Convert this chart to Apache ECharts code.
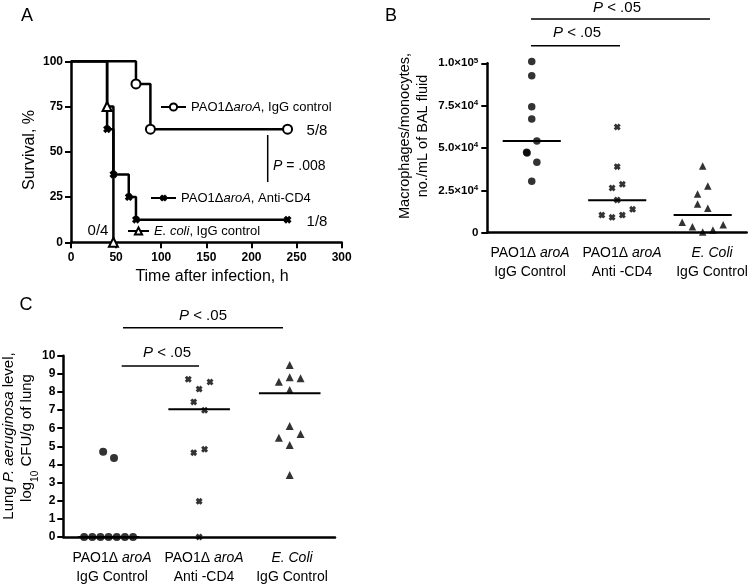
<!DOCTYPE html>
<html><head><meta charset="utf-8">
<script src="https://cdn.jsdelivr.net/npm/echarts@6/dist/echarts.min.js"></script>
<style>html,body{margin:0;padding:0;background:#fff}#c{width:751px;height:586px}</style>
</head><body><div id="c"></div>
<script>
// ---------- Panel A: survival ----------
const survTicksX = [0, 50, 100, 150, 200, 250, 300];
const survTicksY = [0, 25, 50, 75, 100];
const iggTimes = [0, 72, 88, 240];
const iggSurv = [100, 87.5, 62.5, 62.5];
const cd4Times = [0, 40, 47, 64, 72, 240];
const cd4Surv = [100, 62.5, 37.5, 25, 12.5, 12.5];
const ecoliTimes = [0, 40, 47];
const ecoliSurv = [100, 75, 0];
const survSeriesNames = ['PAO1ΔaroA, IgG control', 'PAO1ΔaroA, Anti-CD4', 'E. coli, IgG control'];
const survFractions = ['5/8', '1/8', '0/4'];
const survP = 'P = .008';

// ---------- Panel B: macrophages ----------
const groupLabelsTop = ['PAO1Δ aroA', 'PAO1Δ aroA', 'E. Coli'];
const groupLabelsBottom = ['IgG Control', 'Anti -CD4', 'IgG Control'];
const bIgG = [101000, 92700, 74400, 67100, 54100, 47500, 47000, 41600, 30300];
const bIgGX = [1.0, 1.0, 1.0, 1.0, 1.06, 0.94, 0.945, 1.06, 1.0];
const bCD4 = [62400, 39000, 26400, 28600, 19300, 13800, 10400, 9100, 10400];
const bCD4X = [2.0, 2.0, 1.94, 2.06, 2.0, 2.18, 1.82, 1.94, 2.06];
const bEcoli = [39400, 27600, 22900, 16900, 14400, 6100, 3500, 400, 1600, 4700];
const bEcoliX = [3.0, 3.06, 2.94, 2.94, 3.06, 2.76, 2.88, 3.0, 3.12, 3.24];
const bMedians = [54100, 19100, 10400];
const bTicks = [0, 25000, 50000, 75000, 100000];

// ---------- Panel C: lung bacteria ----------
const cIgG = [0, 0, 0, 0, 0, 0, 0, 4.7, 4.36];
const cIgGX = [0.73, 0.82, 0.91, 1.0, 1.09, 1.18, 1.27, 0.94, 1.06];
const cCD4 = [8.70, 8.16, 8.55, 7.45, 6.99, 4.65, 4.84, 1.97, 0];
const cCD4X = [1.88, 2.0, 2.12, 1.94, 2.06, 1.94, 2.06, 2.0, 2.0];
const cEcoli = [9.49, 8.57, 8.81, 8.75, 8.11, 6.12, 5.48, 5.68, 5.07, 3.42];
const cEcoliX = [3.0, 2.88, 3.0, 3.12, 3.0, 3.0, 2.88, 3.12, 3.0, 3.0];
const cMedians = [0, 7.04, 7.93];
const cTicks = [0, 1, 2, 3, 4, 5, 6, 7, 8, 9, 10];
const sigText = 'P < .05';

// ---------- build ----------
const FONT = '"Liberation Sans", Arial, sans-serif';
const BLACK = '#000';
const crossPath = 'path://M0,3L3,0L5,2L7,0L10,3L8,5L10,7L7,10L5,8L3,10L0,7L2,5Z';

function kmData(times, surv) {
  return times.map((t, i) => i === 0 ? { value: [t, surv[i]], symbol: 'none' } : { value: [t, surv[i]] });
}
function pts(xs, ys) { return ys.map((y, i) => [xs[i], y]); }

const axisLineStyle = { lineStyle: { color: BLACK, width: 2.5 } };
const tickStyle = { show: true, length: 6, lineStyle: { color: BLACK, width: 2 } };
const boldLabel = { color: BLACK, fontFamily: FONT, fontWeight: 'bold', fontSize: 12 };

function medianSeries(xIdx, yIdx, meds) {
  return {
    type: 'custom', xAxisIndex: xIdx, yAxisIndex: yIdx, clip: false, z: 5,
    data: meds.map((m, i) => [i + 1, m]),
    renderItem: function (params, api) {
      const x = api.value(0), y = api.value(1);
      const p1 = api.coord([x - 0.34, y]);
      const p2 = api.coord([x + 0.34, y]);
      return { type: 'line', shape: { x1: p1[0], y1: p1[1], x2: p2[0], y2: p2[1] }, style: { stroke: BLACK, lineWidth: 2 } };
    }
  };
}

const rich = {
  n: { fontFamily: FONT, fontSize: 14, color: BLACK },
  i: { fontFamily: FONT, fontSize: 14, color: BLACK, fontStyle: 'italic' }
};
function labelRich(s) {
  if (s.indexOf('aroA') >= 0) return '{n|' + s.replace('aroA', '') + '}{i|aroA}';
  if (s.indexOf('E. Coli') >= 0) return '{i|E. Coli}';
  return '{n|' + s + '}';
}
function pRich(s) { return '{i|P}{n|' + s.slice(1) + '}'; }

const graphics = [];
function txt(x, y, text, r, align, extra) {
  graphics.push(Object.assign({ type: 'text', x: x, y: y, silent: true,
    style: { text: text, rich: r, align: align || 'center', verticalAlign: 'middle', fill: BLACK, font: '14px ' + FONT } }, extra || {}));
}
function ln(x1, y1, x2, y2, w) {
  graphics.push({ type: 'line', silent: true, shape: { x1, y1, x2, y2 }, style: { stroke: BLACK, lineWidth: w || 1.5 } });
}
const pr = { n: { fontFamily: FONT, fontSize: 15, color: BLACK }, i: { fontFamily: FONT, fontSize: 15, color: BLACK, fontStyle: 'italic' } };
const letter = { n: { fontFamily: FONT, fontSize: 18, color: BLACK } };

// panel letters
txt(27, 16, '{n|A}', letter);
txt(391, 16, '{n|B}', letter);
txt(26, 305, '{n|C}', letter);

// Panel A annotations
const fr = { n: { fontFamily: FONT, fontSize: 15, color: BLACK } };
txt(317, 131, '{n|' + survFractions[0] + '}', fr);
txt(317, 222, '{n|' + survFractions[1] + '}', fr);
txt(98, 231, '{n|' + survFractions[2] + '}', fr);
ln(267.7, 135, 267.7, 182, 1.5);
txt(273, 166, pRich(survP), { n: { fontFamily: FONT, fontSize: 14, color: BLACK }, i: { fontFamily: FONT, fontSize: 14, color: BLACK, fontStyle: 'italic' } }, 'left');
// axis titles A
txt(212, 277, '{n|Time after infection, h}', { n: { fontFamily: FONT, fontSize: 16, color: BLACK } });
txt(30, 150, '{n|Survival, %}', { n: { fontFamily: FONT, fontSize: 16, color: BLACK } }, 'center', { rotation: Math.PI / 2 });

// Panel B annotations
ln(531, 19, 710, 19); txt(617, 8, pRich(sigText), pr);
ln(531, 45.7, 620, 45.7); txt(577, 33, pRich(sigText), pr);
const bCenters = [530, 622, 712];
bCenters.forEach((cx, i) => { txt(cx, 253, labelRich(groupLabelsTop[i]), rich); txt(cx, 272, labelRich(groupLabelsBottom[i]), rich); });
const tr = { n: { fontFamily: FONT, fontSize: 14.5, color: BLACK }, i: { fontFamily: FONT, fontSize: 14.5, color: BLACK, fontStyle: 'italic' } };
txt(405, 136, '{n|Macrophages/monocytes,}', tr, 'center', { rotation: Math.PI / 2 });
txt(423, 136, '{n|no./mL of BAL fluid}', tr, 'center', { rotation: Math.PI / 2 });

// Panel C annotations
ln(123, 327.7, 283, 327.7); txt(203, 316, pRich(sigText), pr);
ln(121.7, 366, 199, 366); txt(167, 353, pRich(sigText), pr);
const cCenters = [112, 204, 292];
cCenters.forEach((cx, i) => { txt(cx, 558, labelRich(groupLabelsTop[i]), rich); txt(cx, 577, labelRich(groupLabelsBottom[i]), rich); });
const ctr = { n: { fontFamily: FONT, fontSize: 15, color: BLACK }, i: { fontFamily: FONT, fontSize: 15, color: BLACK, fontStyle: 'italic' },
  s: { fontFamily: FONT, fontSize: 10, color: BLACK, verticalAlign: 'bottom', padding: [0, 0, -6, 0] } };
txt(9, 436, '{n|Lung }{i|P. aeruginosa}{n| level,}', ctr, 'center', { rotation: Math.PI / 2 });
txt(27, 438, '{n|log}{s|10}{n| CFU/g of lung}', ctr, 'center', { rotation: Math.PI / 2 });

const legRich = { n: { fontFamily: FONT, fontSize: 13, color: BLACK }, i: { fontFamily: FONT, fontSize: 13, color: BLACK, fontStyle: 'italic' } };
function legFmt(name) {
  if (name.indexOf('E. coli') === 0) return '{i|E. coli}{n|' + name.slice(7) + '}';
  const k = name.indexOf('aroA');
  return '{n|' + name.slice(0, k) + '}{i|aroA}{n|' + name.slice(k + 4) + '}';
}
function legend(name, left, cy, w) {
  return { show: true, data: [name], left: left, top: cy - 8, padding: 0, itemWidth: w, itemHeight: 9, selectedMode: false,
    formatter: legFmt, textStyle: { rich: legRich, fontSize: 13, lineHeight: 16 } };
}

const option = {
  animation: false,
  backgroundColor: '#fff',
  legend: [
    legend(survSeriesNames[0], 160, 107, 25),
    legend(survSeriesNames[1], 150, 198, 25),
    legend(survSeriesNames[2], 127, 231, 21)
  ],
  grid: [
    { left: 71, top: 61.3, width: 270.7, height: 181 },
    { left: 487.3, top: 63.3, width: 259.4, height: 169.4 },
    { left: 63.3, top: 355.7, width: 271.7, height: 181.3 }
  ],
  xAxis: [
    { gridIndex: 0, type: 'value', min: survTicksX[0], max: survTicksX[survTicksX.length - 1], interval: 50,
      axisLine: axisLineStyle, axisTick: tickStyle, splitLine: { show: false }, axisLabel: Object.assign({ margin: 9 }, boldLabel) },
    { gridIndex: 1, type: 'value', min: 0.48, max: 3.515,
      axisLine: axisLineStyle, axisTick: { show: false }, splitLine: { show: false }, axisLabel: { show: false } },
    { gridIndex: 2, type: 'value', min: 0.5, max: 3.5,
      axisLine: axisLineStyle, axisTick: { show: false }, splitLine: { show: false }, axisLabel: { show: false } }
  ],
  yAxis: [
    { gridIndex: 0, type: 'value', min: survTicksY[0], max: survTicksY[survTicksY.length - 1], interval: 25,
      axisLine: Object.assign({ show: true }, axisLineStyle), axisTick: tickStyle, splitLine: { show: false }, axisLabel: Object.assign({ margin: 8 }, boldLabel) },
    { gridIndex: 1, type: 'value', min: bTicks[0], max: bTicks[bTicks.length - 1], interval: 25000,
      axisLine: Object.assign({ show: true }, axisLineStyle), axisTick: tickStyle, splitLine: { show: false },
      axisLabel: { margin: 9, formatter: function (v) {
          if (v === 0) return '{b|0}';
          const e = Math.floor(Math.log10(v));
          return '{b|' + (v / Math.pow(10, e)).toFixed(1) + '×10}{s|' + e + '}';
        }, rich: { b: { fontFamily: FONT, fontWeight: 'bold', fontSize: 11.5, color: BLACK },
                   s: { fontFamily: FONT, fontWeight: 'bold', fontSize: 8, color: BLACK, verticalAlign: 'top', padding: [0, 0, 6, 0] } } } },
    { gridIndex: 2, type: 'value', min: cTicks[0], max: cTicks[cTicks.length - 1], interval: 1,
      axisLine: Object.assign({ show: true }, axisLineStyle), axisTick: tickStyle, splitLine: { show: false }, axisLabel: Object.assign({ margin: 8 }, boldLabel) }
  ],
  series: [
    { name: survSeriesNames[0], type: 'line', xAxisIndex: 0, yAxisIndex: 0, step: 'end', data: kmData(iggTimes, iggSurv),
      symbol: 'emptyCircle', symbolSize: 9, lineStyle: { color: BLACK, width: 2.5 }, itemStyle: { color: BLACK, borderWidth: 2 }, clip: false, z: 3 },
    { name: survSeriesNames[1], type: 'line', xAxisIndex: 0, yAxisIndex: 0, step: 'end', data: kmData(cd4Times, cd4Surv),
      symbol: crossPath, symbolSize: 8, lineStyle: { color: BLACK, width: 2.5 }, itemStyle: { color: BLACK }, clip: false, z: 3 },
    { name: survSeriesNames[2], type: 'line', xAxisIndex: 0, yAxisIndex: 0, step: 'end', data: kmData(ecoliTimes, ecoliSurv),
      symbol: 'emptyTriangle', symbolSize: 9, lineStyle: { color: BLACK, width: 2.5 }, itemStyle: { color: BLACK, borderWidth: 2 }, clip: false, z: 4 },

    { type: 'scatter', xAxisIndex: 1, yAxisIndex: 1, data: pts(bIgGX, bIgG), symbol: 'circle', symbolSize: 7.5, itemStyle: { color: BLACK }, clip: false },
    { type: 'scatter', xAxisIndex: 1, yAxisIndex: 1, data: pts(bCD4X, bCD4), symbol: crossPath, symbolSize: 7, itemStyle: { color: BLACK }, clip: false },
    { type: 'scatter', xAxisIndex: 1, yAxisIndex: 1, data: pts(bEcoliX, bEcoli), symbol: 'triangle', symbolSize: 7.5, itemStyle: { color: BLACK }, clip: false },
    medianSeries(1, 1, bMedians),

    { type: 'scatter', xAxisIndex: 2, yAxisIndex: 2, data: pts(cIgGX, cIgG), symbol: 'circle', symbolSize: 8, itemStyle: { color: BLACK }, clip: false },
    { type: 'scatter', xAxisIndex: 2, yAxisIndex: 2, data: pts(cCD4X, cCD4), symbol: crossPath, symbolSize: 7, itemStyle: { color: BLACK }, clip: false },
    { type: 'scatter', xAxisIndex: 2, yAxisIndex: 2, data: pts(cEcoliX, cEcoli), symbol: 'triangle', symbolSize: 8, itemStyle: { color: BLACK }, clip: false },
    medianSeries(2, 2, cMedians)
  ],
  graphic: graphics
};

const chart = echarts.init(document.getElementById('c'), null, { renderer: 'canvas' });
chart.setOption(option);
</script>
</body></html>
